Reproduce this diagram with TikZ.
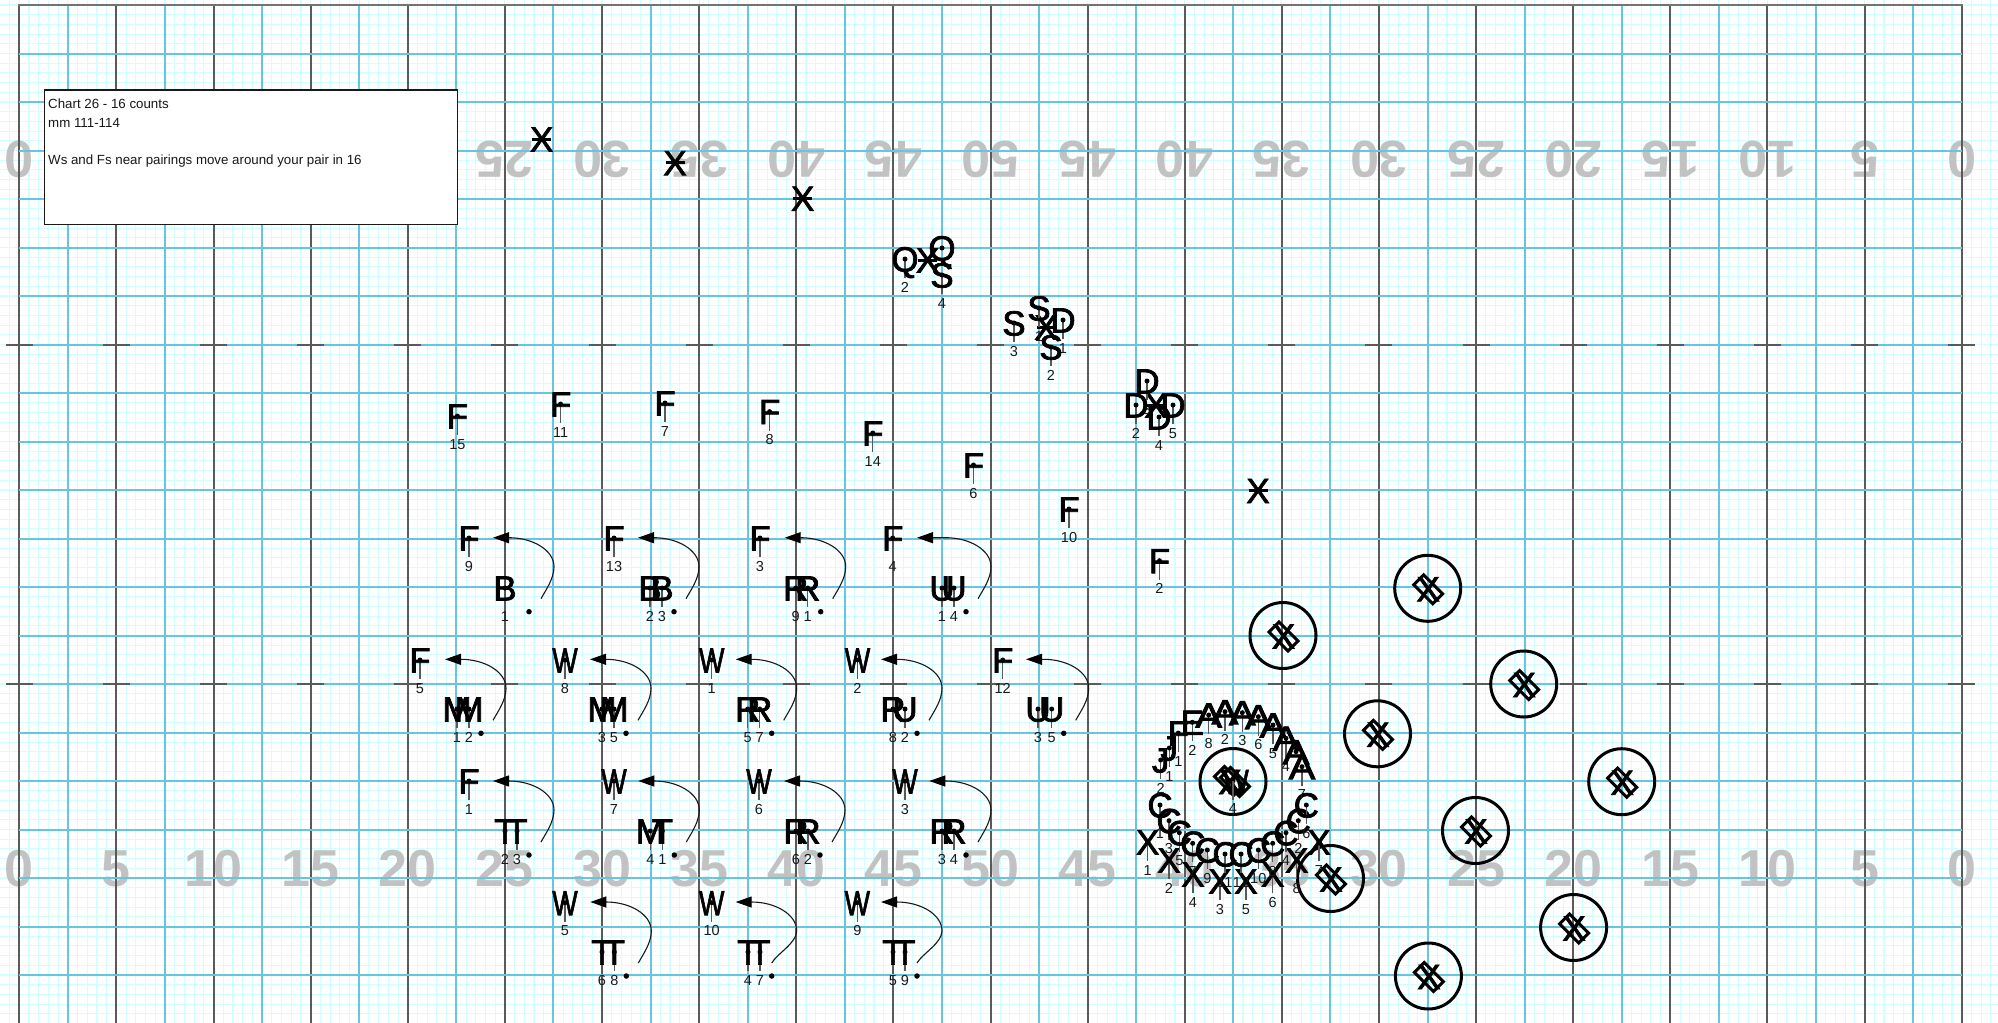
\documentclass[tikz,border=0pt]{standalone}
\usepackage{fontspec}
\usepackage{graphicx}
\setmainfont{Liberation Sans}
\newfontfamily\ltrfont[FakeBold=2]{Liberation Sans}
\usetikzlibrary{arrows.meta}
\definecolor{minorc}{HTML}{D2FFFF}
\definecolor{bluec}{HTML}{66C5DF}
\definecolor{darkc}{HTML}{5A5A5A}
\definecolor{yardc}{HTML}{C2C2C2}
\newcommand\LW{\scalebox{0.77}[1]{W}}
\newcommand\LA{\scalebox{1.15}[1]{A}}
\tikzset{
 x=1pt,y=-1pt,
 ltr/.style={inner sep=0pt,anchor=base,font=\ltrfont\fontsize{35}{35}\selectfont,text=black},
 numb/.style={inner sep=0pt,anchor=base,font=\fontsize{14.5}{14.5}\selectfont,text=black!90},
 yard/.style={inner sep=0pt,anchor=base,font=\fontsize{52}{52}\selectfont\bfseries,text=yardc},
 stemline/.style={draw=black!65,line width=1.2pt},
 pdot/.style={circle,fill=black,inner sep=0pt,minimum size=5pt},
 mvline/.style={draw=black!90,line width=1.1pt,-{Triangle[length=16pt,width=11pt,black]}},
 ring/.style={circle,draw=black,line width=3pt,fill=none,minimum size=66pt,inner sep=0pt},
 tilted/.style={draw=black,line width=3pt,minimum width=27pt,minimum height=14pt,inner sep=0pt,rotate=-45,fill=none},
 xbar/.style={draw=black,line width=3pt},
 txt/.style={inner sep=0pt,anchor=base west,font=\fontsize{13.3}{14}\selectfont,text=black!90},
}
% performer: id, x, y, letter, number
\newcommand\pf[5]{%
 \coordinate (#1c) at (#2,#3);
 \coordinate (#1e) at (#2,{#3+19});
 \draw[stemline] (#1c) -- (#1e);
 \node[ltr] (#1) at (#2,{#3+12.5}) {#4};
 \node[pdot] (#1d) at (#1c) {};
 \node[numb] (#1n) at (#2,{#3+33}) {#5};
}
% performer without a visible number
\newcommand\pq[4]{%
 \coordinate (#1c) at (#2,#3);
 \node[ltr] (#1) at (#2,{#3+12.5}) {#4};
 \node[pdot] (#1d) at (#1c) {};
}
% movement: id, dot x, dot y, tip offset, start offset
\newcommand\mv[5]{%
 \node[pdot,minimum size=5.5pt] (#1) at (#2,#3) {};
 \coordinate (#1a) at ({#2+#5},{#3-13});
 \coordinate (#1b) at ({#2+25},{#3-45});
 \coordinate (#1t) at ({#2-20},{#3-74});
 \coordinate (#1h) at ({#2-#4},{#3-74});
 \draw[mvline] (#1a) .. controls ({#2+#5+5},{#3-22}) and ({#2+25},{#3-33}) .. (#1b)
   .. controls ({#2+25},{#3-62}) and ({#2+3},{#3-74}) .. (#1t) -- (#1h);
}
% lone X mark with bar
\newcommand\xm[3]{%
 \node[ltr] (#1) at (#2,{#3+12.5}) {X};
 \coordinate (#1l) at ({#2-9.5},#3);
 \coordinate (#1r) at ({#2+9.5},#3);
 \draw[xbar] (#1l) -- (#1r);
}
% ringed mark
\newcommand\cm[3]{%
 \node[ring] (#1) at (#2,#3) {};
 \node[tilted] (#1q) at ({#2+0.5},{#3+1}) {};
 \node[ltr] (#1x) at ({#2+0.5},{#3+13}) {X};
}
\begin{document}
\begin{tikzpicture}
\useasboundingbox (0,0) rectangle (1998,1023);
\fill[white] (0,0) rectangle (1998,1023);
\begin{scope}
\clip (0,0) rectangle (1998,1023);
% minor grid
\foreach \i in {-2,...,203}{
  \pgfmathsetmacro\xx{19.3+\i*9.712}
  \draw[minorc,line width=1.1pt] (\xx,0) -- (\xx,1023);
}
\foreach \j in {0,...,105}{
  \pgfmathsetmacro\yy{5+\j*9.7}
  \draw[minorc,line width=1.1pt] (0,\yy) -- (1998,\yy);
}
% yard numbers
\foreach \k/\n in {0/0,1/5,2/10,3/15,4/20,5/25,6/30,7/35,8/40,9/45,10/50,11/45,12/40,13/35,14/30,15/25,16/20,17/15,18/10,19/5,20/0}{
  \pgfmathsetmacro\xx{19.3+\k*97.12}
  \node[yard] (yb\k) at (\xx,886.5) {\n};
  \node[yard,rotate=180] (yt\k) at (\xx,141.5) {\n};
}
% vertical lines
\foreach \k in {0,...,20}{
  \pgfmathsetmacro\xx{19.3+\k*97.12}
  \draw[darkc,line width=2pt] (\xx,5) -- (\xx,1023);
}
\foreach \k in {0,...,19}{
  \pgfmathsetmacro\xx{19.3+48.56+\k*97.12}
  \draw[bluec,line width=2pt] (\xx,5) -- (\xx,1023);
}
% horizontal lines
\foreach \k in {1,...,21}{
  \pgfmathsetmacro\yy{5+\k*48.5}
  \draw[bluec,line width=2pt] (19.3,\yy) -- (1961.7,\yy);
}
\draw[darkc!85,line width=2pt] (18.3,5) -- (1962.7,5);
% hash marks
\foreach \k in {0,...,20}{
  \pgfmathsetmacro\xa{19.3+\k*97.12-13.5}
  \pgfmathsetmacro\xb{19.3+\k*97.12+13.5}
  \draw[darkc,line width=2pt] (\xa,344.5) -- (\xb,344.5);
  \draw[darkc,line width=2pt] (\xa,684) -- (\xb,684);
}
\end{scope}
% text box
\node[draw=black!90,line width=1.5pt,fill=white,minimum width=413pt,minimum height=134.5pt,inner sep=0pt,anchor=north west] (box) at (43.7,89) {};
\node[txt] (t1) at (48,108) {Chart 26 - 16 counts};
\node[txt] (t2) at (48,127) {mm 111-114};
\node[txt] (t3) at (48,164) {Ws and Fs near pairings move around your pair in 16};
% lone X marks
\xm{xa}{541.7}{139}
\xm{xb}{675}{162.7}
\xm{xc}{802.7}{198.3}
\xm{xd}{927.6}{260}
\xm{xe}{1046}{327}
\xm{xf}{1156}{405}
\xm{xg}{1258}{490.5}
% Q S D clusters
\pf{qb}{905}{259}{Q}{2}
\pq{qa}{942}{248}{Q}
\pf{sd}{942}{275}{S}{4}
\pf{sc}{1014}{323}{S}{3}
\pf{sa}{1039}{308}{S}{1}
\pf{da}{1063}{320}{D}{1}
\pf{sb}{1051}{347}{S}{2}
\pf{dc}{1147}{381}{D}{3}
\pf{db}{1136}{405}{D}{2}
\pf{de}{1173}{405}{D}{5}
\pf{dd}{1159}{417}{D}{4}
% upper Fs
\pf{f15}{457.4}{416}{F}{15}
\pf{f11}{560.6}{404}{F}{11}
\pf{f7}{665}{403}{F}{7}
\pf{f8}{769.6}{411.6}{F}{8}
\pf{f14}{872.8}{433}{F}{14}
\pf{f6}{973.5}{465}{F}{6}
\pf{f10}{1069}{509}{F}{10}
\pf{f2}{1159.5}{560.7}{F}{2}
% row 1
\pf{f9}{469}{538}{F}{9}
\pf{f13}{614}{538}{F}{13}
\pf{f3}{760}{538}{F}{3}
\pf{f4}{892.7}{538}{F}{4}
\pf{ba}{505}{588}{B}{1}
\pf{bb}{650}{588}{B}{2}
\pf{bc}{662}{588}{B}{3}
\pf{ri}{795.7}{588}{R}{9}
\pf{ra}{807.7}{588}{R}{1}
\pf{ua}{942}{588}{U}{1}
\pf{ud}{954}{588}{U}{4}
\mv{m1}{529}{611.7}{36}{12}
\mv{m2}{674}{611.7}{36}{12}
\mv{m3}{820.7}{611.7}{36}{12}
\mv{m4}{966}{611.7}{49}{12}
% row 2
\pf{f5}{420}{660}{F}{5}
\pf{w8}{565}{660}{\LW}{8}
\pf{w1}{711.7}{660}{\LW}{1}
\pf{w2}{857.5}{660}{\LW}{2}
\pf{f12}{1002.7}{660}{F}{12}
\pf{ma}{457}{709}{M}{1}
\pf{mb}{469}{709}{M}{2}
\pf{mc}{602}{709}{M}{3}
\pf{me}{614}{709}{M}{5}
\pf{re}{747.7}{709}{R}{5}
\pf{rg}{759.7}{709}{R}{7}
\pf{rh}{893}{709}{R}{8}
\pf{ub}{905}{709}{U}{2}
\pf{uc}{1038}{709}{U}{3}
\pf{ue}{1051.7}{709}{U}{5}
\mv{m5}{481}{733.3}{36}{12}
\mv{m6}{626}{733.3}{36}{12}
\mv{m7}{771.7}{733.3}{36}{12}
\mv{m8}{917}{733.3}{36}{12}
\mv{m9}{1063.7}{733.3}{37.7}{12}
% row 3
\pf{f1}{469}{781}{F}{1}
\pf{w7}{614}{781}{\LW}{7}
\pf{w6}{759}{781}{\LW}{6}
\pf{w3}{905}{781}{\LW}{3}
\pf{tb}{505}{831}{T}{2}
\pf{tc}{517}{831}{T}{3}
\pf{md}{650.3}{831}{M}{4}
\pf{ta}{662.3}{831}{T}{1}
\pf{rf}{796}{831}{R}{6}
\pf{rb}{808}{831}{R}{2}
\pf{rc}{942}{831}{R}{3}
\pf{rd}{954}{831}{R}{4}
\mv{m10}{529}{855}{36}{12}
\mv{m11}{674.3}{855}{36}{12}
\mv{m12}{820}{855}{36}{12}
\mv{m13}{966}{855}{36.7}{12}
% row 4
\pf{w5}{565}{902.7}{\LW}{5}
\pf{w10}{711.7}{902.7}{\LW}{10}
\pf{w9}{857.3}{902.7}{\LW}{9}
\pf{tf}{602}{952}{T}{6}
\pf{th}{614.3}{952}{T}{8}
\pf{td}{748}{952}{T}{4}
\pf{tg}{760}{952}{T}{7}
\pf{te}{893}{952}{T}{5}
\pf{ti}{905}{952}{T}{9}
\mv{m14}{626.3}{976}{36}{12}
\mv{m15}{771.7}{976}{36}{0}
\mv{m16}{917}{976}{36}{0}
% ringed marks
\cm{ca}{1283}{635.5}
\cm{cb}{1427.7}{588.3}
\cm{cc}{1523.7}{684}
\cm{cd}{1377.5}{733.8}
\cm{ce}{1621.7}{781.7}
\cm{cf}{1475.5}{830.5}
\cm{cg}{1573.6}{927.5}
\cm{ch}{1428.4}{976}
\cm{ci}{1330.5}{878.5}
% centre ring
\node[ring] (cj) at (1233,781.5) {};
\node[tilted] (cjq) at (1229,781) {};
\node[tilted] (cjr) at (1235,782) {};
\node[ltr] (cjw) at (1236,794) {\LW};
\node[ltr] (cjx) at (1230,794) {X};
\coordinate (cjc) at (1233,781);
\coordinate (cje) at (1233,800);
\draw[stemline] (cjc) -- (cje);
\node[numb] (cjn) at (1233,813.5) {4};
% block: X
\pf{xx1}{1147.7}{842}{X}{1}
\pf{xx2}{1169}{860}{X}{2}
\pf{xx4}{1193}{874}{X}{4}
\pf{xx3}{1220}{881}{X}{3}
\pf{xx5}{1246}{881}{X}{5}
\pf{xx6}{1272.7}{874}{X}{6}
\pf{xx8}{1296.7}{860}{X}{8}
\pf{xx7}{1319}{842}{X}{7}
% block: C
\pf{c1}{1160}{805}{C}{1}
\pf{c3}{1169}{820.7}{C}{3}
\pf{c5}{1179.3}{832.7}{C}{5}
\pf{c7}{1192.7}{843.3}{C}{7}
\pf{c9}{1207.3}{850}{C}{9}
\pf{c11}{1225}{854}{C}{11}
\pf{c12}{1241}{854}{C}{12}
\pf{c10}{1258.3}{850}{C}{10}
\pf{c8}{1272.7}{843.3}{C}{8}
\pf{c4}{1286}{832.7}{C}{4}
\pf{c2}{1298.3}{820.7}{C}{2}
\pf{c6}{1306.3}{805}{C}{6}
% block: A
\pf{a8}{1208.7}{715}{\LA}{8}
\pf{a2}{1225}{711.7}{\LA}{2}
\pf{a3}{1242.3}{712.7}{\LA}{3}
\pf{a6}{1258.3}{716.7}{\LA}{6}
\pf{a5}{1273}{725}{\LA}{5}
\pf{a4}{1286}{738.3}{\LA}{4}
\pq{a1}{1296}{751.7}{\LA}
\pf{a7}{1302}{766.7}{\LA}{7}
% block: E F J
\pf{e2}{1192.3}{722.3}{E}{2}
\pf{fz}{1178.3}{733}{F}{1}
\pf{jb}{1169.3}{748}{J}{1}
\pf{ja}{1160.7}{760}{J}{2}
\end{tikzpicture}
\end{document}
